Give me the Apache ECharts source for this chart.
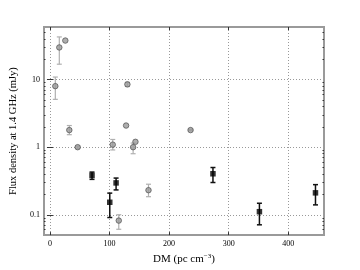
<!DOCTYPE html>
<html><head><meta charset="utf-8">
<script src="https://cdn.jsdelivr.net/npm/echarts@6/dist/echarts.min.js"></script>
<style>html,body{margin:0;padding:0;background:#fff}#c{width:360px;height:270px}</style>
</head><body><div id="c"></div>
<script>
// Gray circles (other sources)
const grayDM   = [15.7, 25.8, 9, 130, 32.5, 46.5, 127.8, 105.4, 143.5, 139.6, 236, 115.5, 165.4];
const grayFlux = [29.9, 37.8, 8.0, 8.5, 1.79, 1.0, 2.09, 1.09, 1.20, 1.0, 1.79, 0.082, 0.231];
const grayLo   = [16.9, 37.8, 5.1, 7.9, 1.53, 0.96, 2.09, 0.91, 1.20, 0.80, 1.75, 0.061, 0.185];
const grayHi   = [42.8, 37.8, 10.9, 9.1, 2.09, 1.04, 2.09, 1.30, 1.20, 1.15, 1.83, 0.100, 0.283];
// Black squares
const blackDM   = [70.6, 111, 100.4, 273.6, 351.6, 445.7];
const blackFlux = [0.382, 0.296, 0.153, 0.404, 0.111, 0.211];
const blackLo   = [0.334, 0.233, 0.091, 0.300, 0.071, 0.140];
const blackHi   = [0.428, 0.349, 0.209, 0.500, 0.148, 0.279];
// Axes
const xTicks = [0, 100, 200, 300, 400];
const yTicks = [0.1, 1, 10];
const yMinor = [0.06,0.07,0.08,0.09,0.2,0.3,0.4,0.5,0.6,0.7,0.8,0.9,2,3,4,5,6,7,8,9,20,30,40,50];

const FONT = 'Liberation Serif';
const chart = echarts.init(document.getElementById('c'), null, {renderer: 'canvas'});

function errItem(color, lw, capHalf) {
  return function (params, api) {
    const x = api.value(0);
    const top = api.coord([x, api.value(2)]);
    const bot = api.coord([x, api.value(1)]);
    const st = {stroke: color, lineWidth: lw};
    if (Math.abs(top[1] - bot[1]) < 1) return null;
    return {type: 'group', children: [
      {type: 'line', shape: {x1: top[0], y1: top[1], x2: bot[0], y2: bot[1]}, style: st},
      {type: 'line', shape: {x1: top[0]-capHalf, y1: top[1], x2: top[0]+capHalf, y2: top[1]}, style: st},
      {type: 'line', shape: {x1: bot[0]-capHalf, y1: bot[1], x2: bot[0]+capHalf, y2: bot[1]}, style: st}
    ]};
  };
}

const grid = {left: 44, top: 27, right: 36, bottom: 32, show: true, borderColor: '#9a9a9a', borderWidth: 2, backgroundColor: 'transparent'};
const xMin = -10, xMax = 460, yMin = 0.05, yMax = 60;

const option = {
  animation: false,
  grid: grid,
  xAxis: [
    {type: 'value', min: xMin, max: xMax, position: 'bottom',
     axisLine: {show: false},
     axisTick: {show: true, inside: true, length: 3, lineStyle: {color: '#333'}, customValues: xTicks},
     axisLabel: {customValues: xTicks, fontFamily: FONT, fontSize: 8, color: '#000', margin: 5},
     splitLine: {show: true, lineStyle: {color: '#999', type: [1, 2], width: 1}},
     name: '{a|DM (pc cm}{s|−3}{a|)}', nameLocation: 'middle', nameGap: 16,
     nameTextStyle: {rich: {a: {fontFamily: FONT, fontSize: 11, color: '#000'}, s: {fontFamily: FONT, fontSize: 7, color: '#000', verticalAlign: 'top', padding: [0,0,6,0]}}}
    },
    {type: 'value', min: xMin, max: xMax, position: 'top',
     axisLine: {show: false},
     axisTick: {show: true, inside: true, length: 3, lineStyle: {color: '#333'}, customValues: xTicks},
     axisLabel: {show: false}, splitLine: {show: false}}
  ],
  yAxis: [
    {type: 'log', logBase: 10, min: yMin, max: yMax, position: 'left',
     axisLine: {show: false},
     axisTick: {show: true, inside: true, length: 3, lineStyle: {color: '#333'}, customValues: yTicks},
     axisLabel: {customValues: yTicks, fontFamily: FONT, fontSize: 8, color: '#000', margin: 4,
       formatter: v => String(v)},
     splitLine: {show: true, lineStyle: {color: '#999', type: [1, 2], width: 1}},
     name: 'Flux density at 1.4 GHz (mJy)', nameLocation: 'middle', nameGap: 20,
     nameTextStyle: {fontFamily: FONT, fontSize: 10.5, color: '#000'}
    },
    {type: 'log', logBase: 10, min: yMin, max: yMax, position: 'right',
     axisLine: {show: false},
     axisTick: {show: true, inside: true, length: 3, lineStyle: {color: '#333'}, customValues: yTicks},
     axisLabel: {show: false}, splitLine: {show: false}},
    {type: 'log', logBase: 10, min: yMin, max: yMax, position: 'left',
     axisLine: {show: false},
     axisTick: {show: true, inside: true, length: 1.5, lineStyle: {color: '#333'}, customValues: yMinor},
     axisLabel: {show: false}, splitLine: {show: false}},
    {type: 'log', logBase: 10, min: yMin, max: yMax, position: 'right',
     axisLine: {show: false},
     axisTick: {show: true, inside: true, length: 1.5, lineStyle: {color: '#333'}, customValues: yMinor},
     axisLabel: {show: false}, splitLine: {show: false}}
  ],
  series: [
    {type: 'custom', renderItem: errItem('#b0b0b0', 1.2, 2.5), z: 2,
     data: grayDM.map((d, i) => [d, grayLo[i], grayHi[i]])},
    {type: 'custom', renderItem: errItem('#111', 1.5, 2.5), z: 2,
     data: blackDM.map((d, i) => [d, blackLo[i], blackHi[i]])},
    {type: 'scatter', symbol: 'circle', symbolSize: 5.5, z: 3,
     itemStyle: {color: '#9a9a9a', borderColor: '#505050', borderWidth: 0.9},
     data: grayDM.map((d, i) => [d, grayFlux[i]])},
    {type: 'scatter', symbol: 'rect', symbolSize: 5.5, z: 3,
     itemStyle: {color: '#000'},
     data: blackDM.map((d, i) => [d, blackFlux[i]])}
  ]
};
chart.setOption(option);
</script></body></html>
